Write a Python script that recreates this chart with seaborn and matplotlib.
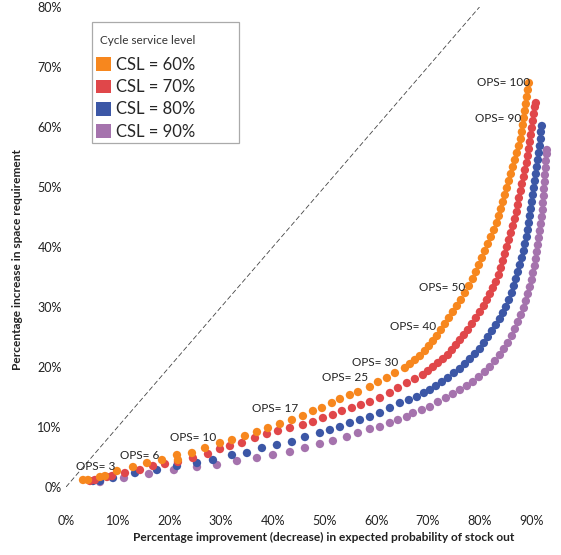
import matplotlib
matplotlib.use("Agg")
import matplotlib.pyplot as plt
from matplotlib.patches import Patch, Rectangle
import seaborn as sns
import pandas as pd

# ---------------- data (percent units) ----------------
csl_labels = ["CSL = 60%", "CSL = 70%", "CSL = 80%", "CSL = 90%"]
csl_colors = ["#F7871E", "#E0474A", "#3C57A6", "#A573AD"]

orange_x = [3.29, 4.26, 6.58, 7.54, 9.86, 12.96, 15.67, 18.57, 21.47, 21.66, 24.37, 26.89, 29.79,
            32.11, 34.62, 36.94, 39.07, 41.39, 43.71, 45.84, 47.78, 49.52, 51.45, 53.0, 54.93,
            56.48, 58.8, 60.35, 62.09, 63.64, 65.57, 66.54, 67.5, 68.47, 69.44, 70.21, 70.99,
            71.76, 72.53, 73.31, 74.08, 74.85, 75.63, 76.4, 77.18, 77.95, 78.72, 79.3, 79.88,
            80.46, 81.04, 81.62, 82.2, 82.79, 83.37, 83.75, 84.14, 84.53, 84.91, 85.3, 85.69,
            86.07, 86.46, 86.85, 87.23, 87.62, 88.01, 88.2, 88.39, 88.59, 88.78, 88.97, 89.17,
            89.36, 89.56]
orange_y = [1.17, 1.17, 1.67, 1.83, 2.67, 3.33, 4.0, 4.5, 5.33, 4.5, 5.67, 6.5, 7.33,
            7.83, 8.5, 9.17, 9.83, 10.5, 11.17, 11.83, 12.67, 13.17, 14.0, 14.67, 15.33,
            15.83, 16.67, 17.5, 18.17, 19.0, 19.83, 20.5, 21.17, 21.83, 22.67, 23.5, 24.33,
            25.17, 26.17, 27.17, 28.17, 29.17, 30.17, 31.17, 32.33, 33.5, 34.67, 35.83, 37.0,
            38.17, 39.33, 40.5, 41.67, 42.83, 44.0, 45.17, 46.33, 47.5, 48.67, 49.83, 51.0,
            52.17, 53.33, 54.5, 55.67, 56.83, 58.0, 59.17, 60.33, 61.5, 62.67, 63.83, 65.0,
            66.17, 67.33]

red_x = [4.64, 5.61, 7.93, 8.9, 11.41, 14.31, 16.83, 19.15, 21.66, 24.56, 27.47, 29.79, 31.72,
         34.04, 36.56, 38.88, 41.01, 43.33, 45.84, 47.78, 49.71, 51.64, 53.38, 55.32, 57.06,
         58.8, 60.74, 62.67, 64.22, 65.96, 67.5, 69.05, 70.02, 70.99, 71.95, 72.92, 73.89,
         74.66, 75.44, 76.21, 76.98, 77.76, 78.53, 79.3, 80.08, 80.85, 81.43, 82.01, 82.59,
         83.17, 83.75, 84.14, 84.53, 84.91, 85.3, 85.69, 86.07, 86.46, 86.85, 87.23, 87.43,
         87.62, 88.01, 88.2, 88.59, 88.78, 89.17, 89.36, 89.56, 89.75, 89.94, 90.14, 90.33,
         90.52, 90.72, 90.91]
red_y = [1.0, 1.17, 1.67, 1.83, 2.33, 2.83, 3.5, 3.83, 4.17, 4.83, 5.5, 6.33, 6.83,
         7.33, 8.17, 8.83, 9.33, 9.83, 10.33, 10.83, 11.5, 12.0, 12.67, 13.17, 13.67,
         14.17, 14.83, 15.67, 16.5, 17.33, 18.0, 18.67, 19.33, 20.0, 20.67, 21.33, 22.0,
         22.83, 23.67, 24.5, 25.33, 26.17, 27.17, 28.17, 29.17, 30.17, 31.17, 32.17, 33.17,
         34.17, 35.33, 36.5, 37.67, 38.83, 40.0, 41.17, 42.33, 43.5, 44.67, 45.83, 47.0,
         48.17, 49.33, 50.5, 51.67, 52.83, 54.0, 55.17, 56.33, 57.5, 58.67, 59.83, 61.0,
         62.17, 63.33, 64.0]

blue_x = [5.22, 6.58, 9.09, 13.35, 17.6, 21.47, 25.34, 28.43, 32.11, 35.01, 37.91, 40.81, 43.71,
          46.23, 49.13, 51.06, 53.0, 54.93, 56.87, 58.8, 60.74, 62.67, 64.6, 66.34, 67.89,
          69.25, 70.41, 71.57, 72.73, 73.89, 75.05, 76.21, 77.18, 78.14, 79.11, 80.08, 80.85,
          81.62, 82.4, 83.17, 83.95, 84.53, 85.11, 85.69, 86.27, 86.65, 87.04, 87.43, 87.81,
          88.2, 88.59, 88.78, 89.17, 89.36, 89.56, 89.75, 89.94, 90.14, 90.33, 90.52, 90.72,
          90.91, 91.1, 91.3, 91.49, 91.68, 91.88, 91.88, 92.07]
blue_y = [1.0, 1.0, 1.5, 2.33, 2.83, 3.5, 4.0, 4.5, 5.33, 5.67, 6.5, 7.0, 7.5,
          8.33, 9.0, 9.5, 10.0, 10.67, 11.17, 11.67, 12.33, 13.17, 14.0, 14.5, 15.0,
          15.67, 16.17, 16.83, 17.5, 18.17, 19.0, 19.67, 20.5, 21.33, 22.17, 23.0, 24.0,
          25.0, 26.0, 27.0, 28.0, 29.0, 30.0, 31.17, 32.33, 33.5, 34.67, 35.83, 37.0,
          38.17, 39.33, 40.5, 41.67, 42.83, 44.0, 45.17, 46.33, 47.5, 48.67, 49.83, 51.0,
          52.17, 53.33, 54.5, 55.67, 56.83, 58.0, 59.17, 60.17]

purple_x = [6.58, 11.22, 16.05, 20.89, 25.34, 29.21, 33.08, 36.94, 40.04, 43.33, 46.23, 49.13,
            51.64, 54.35, 56.48, 58.8, 60.74, 62.67, 64.22, 65.96, 67.12, 68.86, 70.41, 71.95,
            73.5, 74.85, 76.21, 77.56, 78.72, 79.88, 81.04, 82.01, 82.98, 83.95, 84.72, 85.49,
            86.27, 86.85, 87.43, 88.01, 88.59, 88.97, 89.36, 89.75, 90.14, 90.33, 90.72, 90.91,
            91.1, 91.3, 91.49, 91.68, 91.88, 92.07, 92.26, 92.26, 92.46, 92.46, 92.65, 92.65,
            92.84, 92.84, 93.04, 93.04]
purple_y = [0.83, 1.5, 2.17, 2.83, 3.33, 3.67, 4.33, 4.83, 5.33, 5.83, 6.5, 7.17,
            7.67, 8.33, 9.0, 9.67, 10.0, 10.67, 11.17, 11.67, 12.33, 12.83, 13.33, 14.17,
            14.83, 15.5, 16.17, 16.83, 17.5, 18.33, 19.17, 20.0, 21.0, 22.0, 23.0, 24.0,
            25.17, 26.33, 27.5, 28.67, 29.83, 31.0, 32.17, 33.33, 34.5, 35.67, 36.83, 38.0,
            39.17, 40.33, 41.5, 42.67, 43.83, 45.0, 46.17, 47.33, 48.5, 49.67, 50.83, 52.0,
            53.17, 54.33, 55.5, 56.17]

diag_x = [0, 80]
diag_y = [0, 80]

ann_text = ["OPS= 3", "OPS= 6", "OPS= 10", "OPS= 17", "OPS= 25", "OPS= 30",
            "OPS= 40", "OPS= 50", "OPS= 90", "OPS= 100"]
ann_x = [1.93, 10.44, 20.12, 35.98, 49.52, 55.32, 62.67, 68.28, 79.11, 79.5]
ann_y = [3.5, 5.33, 8.33, 13.0, 18.17, 20.83, 26.67, 33.17, 61.5, 67.5]

x_ticks = [0, 10, 20, 30, 40, 50, 60, 70, 80, 90]
y_ticks = [0, 10, 20, 30, 40, 50, 60, 70, 80]

# ---------------- build table ----------------
frames = []
for lab, xs, ys in [(csl_labels[3], purple_x, purple_y), (csl_labels[2], blue_x, blue_y),
                    (csl_labels[1], red_x, red_y), (csl_labels[0], orange_x, orange_y)]:
    frames.append(pd.DataFrame({"x": xs, "y": ys, "csl": lab}))
df = pd.concat(frames, ignore_index=True)

sns.set_theme(style="white")
plt.rcParams["font.family"] = ["Lato", "DejaVu Sans"]

W, H = 561, 555
fig = plt.figure(figsize=(W / 100, H / 100), dpi=100)
ax = fig.add_axes([66 / W, (H - 487) / H, 490 / W, 480 / H])

sns.lineplot(x=diag_x, y=diag_y, ax=ax, color="#444444", lw=0.6,
             dashes=False, linestyle=(0, (6, 3)))

sns.scatterplot(data=df, x="x", y="y", hue="csl",
                palette=dict(zip(csl_labels, csl_colors)),
                s=36, edgecolor="none", linewidth=0, legend=False, ax=ax, clip_on=False)

for t, tx, ty in zip(ann_text, ann_x, ann_y):
    ax.text(tx, ty, t, ha="left", va="center", fontsize=8.5, color="#222222")

ax.set_xlim(0, 94.8)
ax.set_ylim(0, 80)
ax.set_xticks(x_ticks)
ax.set_yticks(y_ticks)
ax.set_xticklabels([f"{v}%" for v in x_ticks])
ax.set_yticklabels([f"{v}%" for v in y_ticks])
ax.tick_params(axis="x", length=0, pad=20, labelsize=9, labelcolor="#222222")
ax.tick_params(axis="y", length=0, pad=3, labelsize=9, labelcolor="#222222")
for s in ax.spines.values():
    s.set_visible(False)
ax.grid(False)

ax.set_xlabel("Percentage improvement (decrease) in expected probability of stock out",
              fontsize=8.6, fontweight="bold", color="#222222")
ax.set_ylabel("Percentage increase in space requirement",
              fontsize=8.6, fontweight="bold", color="#222222")
ax.xaxis.set_label_coords((324 - 66) / 490, (487 - 532) / 480)
ax.yaxis.set_label_coords((23 - 66) / 490, (487 - 259) / 480)

# legend: box, title and entries
fig.add_artist(Rectangle((92 / W, 1 - 143 / H), (239 - 92) / W, (143 - 22) / H,
                         transform=fig.transFigure, facecolor="white",
                         edgecolor="#aaaaaa", linewidth=0.9, zorder=5))
fig.text(100 / W, 1 - 40 / H, "Cycle service level", fontsize=8.5, color="#333333",
         ha="left", va="center", zorder=6)
handles = [Patch(facecolor=c, edgecolor="none", label=l) for l, c in zip(csl_labels, csl_colors)]
leg = fig.legend(handles=handles, loc="upper left", bbox_to_anchor=(96 / W, 1 - 57 / H),
                 fontsize=12, frameon=False,
                 handlelength=0.9, handleheight=0.9, handletextpad=0.3,
                 labelspacing=0.37, borderpad=0, borderaxespad=0)
leg.set_zorder(7)

fig.savefig("out.png", dpi=100)
